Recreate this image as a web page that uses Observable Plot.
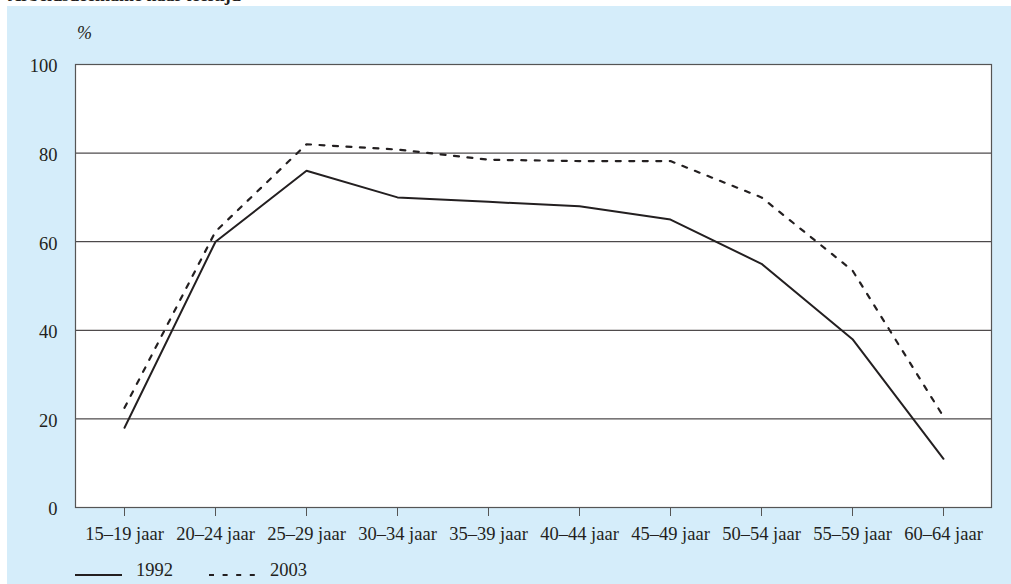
<!DOCTYPE html>
<html>
<head>
<meta charset="utf-8">
<script src="https://cdn.jsdelivr.net/npm/d3@7"></script>
<script src="https://cdn.jsdelivr.net/npm/@observablehq/plot@0.6"></script>
<style>
  html, body { margin: 0; padding: 0; background: #ffffff; overflow: hidden; }
  body { width: 1011px; height: 584px; position: relative; font-family: "Liberation Serif", serif; color: #231f20; }
  #title { position: absolute; left: 8px; top: -15px; font-size: 18px; font-weight: bold; white-space: nowrap; }
  #panel { position: absolute; left: 7px; top: 6px; width: 1004px; height: 578px; background: #d5edfa; }
  #pct { position: absolute; left: 70px; top: 17px; font-size: 18px; font-style: italic; }
  #chart { position: absolute; left: 0; top: 0; }
  #legend { position: absolute; left: 0; top: 553px; width: 1004px; height: 25px; }
</style>
</head>
<body>
<div id="title">Arbeidsdeelname naar leeftijd</div>
<div id="panel">
  <div id="chart"></div>
  <div id="pct">%</div>
  <svg id="legend" width="1004" height="25"></svg>
</div>
<script>
const ages = ["15–19 jaar", "20–24 jaar", "25–29 jaar", "30–34 jaar", "35–39 jaar",
              "40–44 jaar", "45–49 jaar", "50–54 jaar", "55–59 jaar", "60–64 jaar"];
const years = ["1992", "2003"];
const v1992 = [18, 60, 76, 70, 69, 68, 65, 55, 38, 11];
const v2003 = [22.5, 62.3, 82, 80.8, 78.5, 78.2, 78.2, 70, 53.5, 20.5];
const yTicks = [0, 20, 40, 60, 80, 100];
const gridTicks = [20, 40, 60, 80];

const ink = "#231f20";
const dash = "5,8.5";

const data = ages.flatMap((a, i) => [
  {age: a, year: "1992", value: v1992[i]},
  {age: a, year: "2003", value: v2003[i]}
]);

const chart = Plot.plot({
  width: 1004,
  height: 541,
  marginLeft: 68,
  marginRight: 20,
  marginTop: 58,
  marginBottom: 40,
  style: {background: "transparent", fontFamily: "Liberation Serif, serif", fontSize: "18.5px", color: ink, overflow: "visible"},
  x: {type: "point", domain: ages, padding: 0.5, label: null},
  y: {domain: [0, 100], label: null},
  marks: [
    Plot.frame({fill: "white", stroke: null}),
    Plot.gridY(gridTicks, {stroke: ink, strokeOpacity: 1, strokeWidth: 1}),
    Plot.axisY(yTicks, {tickSize: 0, tickPadding: 18, label: null, dy: 2, fill: ink}),
    Plot.axisX({tickSize: 9, tickPadding: 10, label: null, stroke: "#555", fill: ink}),
    Plot.line(data.filter(d => d.year === "2003"), {x: "age", y: "value", stroke: ink, strokeWidth: 2.2, strokeDasharray: dash, strokeLinejoin: "miter"}),
    Plot.line(data.filter(d => d.year === "1992"), {x: "age", y: "value", stroke: ink, strokeWidth: 2, strokeLinejoin: "miter"}),
    Plot.frame({stroke: "#555", strokeWidth: 1.2})
  ]
});
document.getElementById("chart").appendChild(chart);

// legend
const lg = d3.select("#legend");
const items = [
  {label: years[0], x: 68, dashed: false},
  {label: years[1], x: 202, dashed: true}
];
items.forEach(it => {
  lg.append("line")
    .attr("x1", it.x).attr("x2", it.x + 47)
    .attr("y1", 16).attr("y2", 16)
    .attr("stroke", ink).attr("stroke-width", 2.2)
    .attr("stroke-dasharray", it.dashed ? "5,8.6" : null);
  lg.append("text")
    .attr("x", it.x + 61).attr("y", 17)
    .attr("font-family", "Liberation Serif, serif")
    .attr("font-size", "18.5px")
    .attr("fill", ink)
    .text(it.label);
});
</script>
</body>
</html>
